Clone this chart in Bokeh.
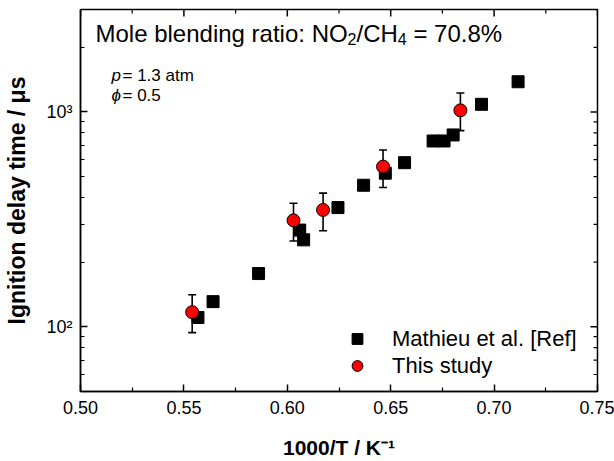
import math
from bokeh.plotting import figure
from bokeh.models import (ColumnDataSource, Whisker, TeeHead, FixedTicker, NumeralTickFormatter,
                          Label, Legend, LegendItem)
from bokeh.embed import file_html
from bokeh.resources import INLINE

# ---------------- data ----------------
mathieu_x = [0.5568, 0.5641, 0.5861, 0.6060, 0.6079, 0.6245, 0.6369, 0.6474,
             0.6567, 0.6705, 0.6758, 0.6802, 0.6939, 0.7116]
mathieu_y = [110.5, 131, 177, 282, 254, 359, 456, 519, 581, 733, 733, 782, 1086, 1383]

study_x = [0.5540, 0.6030, 0.6173, 0.6463, 0.6837]
study_y = [117, 313, 350, 557, 1018]
study_lo = [94, 251, 280, 445, 819]
study_hi = [141, 376, 419, 665, 1226]

x_ticks = [0.50, 0.55, 0.60, 0.65, 0.70, 0.75]
x_minor = [0.525, 0.575, 0.625, 0.675, 0.725]
y_ticks = [100, 1000]
y_minor = [50, 60, 70, 80, 90, 200, 300, 400, 500, 600, 700, 800, 900, 2000, 3000]
y_tick_labels = {100: "10²", 1000: "10³"}

legend_labels = ["Mathieu et al. [Ref]", "This study"]
x_label = "1000/T / K⁻¹"
y_label = "Ignition delay time / μs"

FONT = "Liberation Sans"
X0, X1 = 0.5, 0.75
Y0, Y1 = 50, 3000

# Arial/Liberation Sans advance widths (per 1000 em) for positioning text pieces
ADV = {'M': 833, 'o': 556, 'l': 222, 'e': 556, ' ': 278, 'b': 556, 'n': 556, 'd': 556,
       'i': 222, 'g': 556, 'r': 333, 'a': 556, 't': 278, ':': 278, 'N': 722, 'O': 778,
       '/': 278, 'C': 722, 'H': 722, '=': 584, '7': 556, '0': 556, '.': 278, '8': 556,
       '%': 889, '2': 556, '4': 556}


def tw(s, size):
    return sum(ADV.get(c, 556) for c in s) * size / 1000.0


p = figure(width=614, height=461, x_range=(X0, X1), y_range=(Y0, Y1),
           y_axis_type="log", output_backend="svg", toolbar_location=None,
           min_border_left=80, min_border_right=17, min_border_top=9, min_border_bottom=70)
p.background_fill_color = "white"
p.border_fill_color = "white"
p.outline_line_color = "black"
p.outline_line_width = 1.5
p.xgrid.visible = False
p.ygrid.visible = False

xt = FixedTicker(ticks=x_ticks, minor_ticks=x_minor)
yt = FixedTicker(ticks=y_ticks, minor_ticks=y_minor)


def style_axis(ax):
    ax.axis_line_color = "black"
    ax.axis_line_width = 1.5
    ax.major_tick_in = 7
    ax.major_tick_out = 0
    ax.minor_tick_in = 4
    ax.minor_tick_out = 0
    ax.major_tick_line_width = 1.5
    ax.minor_tick_line_width = 1.2
    ax.major_tick_line_color = "black"
    ax.minor_tick_line_color = "black"
    ax.major_label_text_font = FONT
    ax.major_label_text_color = "black"
    ax.axis_label_text_font = FONT
    ax.axis_label_text_font_style = "bold"
    ax.axis_label_text_color = "black"


xa = p.xaxis[0]
xa.ticker = xt
xa.formatter = NumeralTickFormatter(format="0.00")
style_axis(xa)
xa.major_label_text_font_size = "18px"
xa.major_label_standoff = 9
xa.axis_label = x_label
xa.axis_label_text_font_size = "21px"
xa.axis_label_standoff = 19

ya = p.yaxis[0]
ya.ticker = yt
ya.major_label_overrides = y_tick_labels
style_axis(ya)
ya.major_label_text_font_size = "18px"
ya.major_label_standoff = 8
ya.axis_label = y_label
ya.axis_label_text_font_size = "23px"
ya.axis_label_standoff = 13

# mirrored inward ticks on the top and right frame edges (half of each dash is clipped away)
p.scatter(x=x_ticks, y=[Y1] * len(x_ticks), marker="dash", angle=math.pi / 2, size=14,
          line_color="black", line_width=1.5)
p.scatter(x=x_minor, y=[Y1] * len(x_minor), marker="dash", angle=math.pi / 2, size=8,
          line_color="black", line_width=1.2)
p.scatter(x=[X1] * len(y_ticks), y=y_ticks, marker="dash", size=14,
          line_color="black", line_width=1.5)
p.scatter(x=[X1] * len(y_minor), y=y_minor, marker="dash", size=8,
          line_color="black", line_width=1.2)

# ---------------- glyphs ----------------
src_m = ColumnDataSource(dict(x=mathieu_x, y=mathieu_y))
src_s = ColumnDataSource(dict(x=study_x, y=study_y, lo=study_lo, hi=study_hi))

wh = Whisker(source=src_s, base="x", lower="lo", upper="hi", dimension="height",
             line_color="black", line_width=1.6,
             upper_head=TeeHead(size=8, line_color="black", line_width=1.6),
             lower_head=TeeHead(size=8, line_color="black", line_width=1.6))
p.add_layout(wh)

r_m = p.scatter("x", "y", source=src_m, marker="square", size=12,
                fill_color="black", line_color="black")
r_s = p.scatter("x", "y", source=src_s, marker="circle", size=13,
                fill_color="#ff0000", line_color="black", line_width=1)

legend = Legend(items=[LegendItem(label=legend_labels[0], renderers=[r_m]),
                       LegendItem(label=legend_labels[1], renderers=[r_s])],
                location=(262, 12), padding=0, margin=0, spacing=0,
                glyph_width=30, glyph_height=27, label_height=27, label_standoff=20,
                label_text_font=FONT, label_text_font_size="22px", label_text_color="black",
                border_line_alpha=0, background_fill_alpha=0)
p.add_layout(legend)


def lab(x, y, text, size, style="normal", **kw):
    p.add_layout(Label(x=x, y=y, x_units="screen", y_units="screen", text=text,
                       text_font=FONT, text_font_size=f"{size}px", text_font_style=style,
                       text_color="black", **kw))


# ---------------- annotations (positions relative to the frame, in px) ----------------
fs, ss = 24, 16
cx = 15          # title start
yb = 358         # title baseline above the frame bottom
pieces = [("Mole blending ratio: NO", fs, 0), ("2", ss, -5), ("/CH", fs, 0), ("4", ss, -5),
          (" = 70.8%", fs, 0)]
for txt, size, dy in pieces:
    if txt.startswith(" "):
        cx += tw(" ", size)
        txt = txt[1:]
    lab(cx, yb + dy, txt, size, text_baseline="alphabetic")
    cx += tw(txt, size)

for sym, rest, base in [("p", "= 1.3 atm", 316), ("ϕ", "= 0.5", 296)]:
    lab(31, base, sym, 17, "italic", text_baseline="alphabetic")
    lab(42, base, rest, 17, text_baseline="alphabetic")

open("out.html", "w").write(file_html(p, INLINE))
